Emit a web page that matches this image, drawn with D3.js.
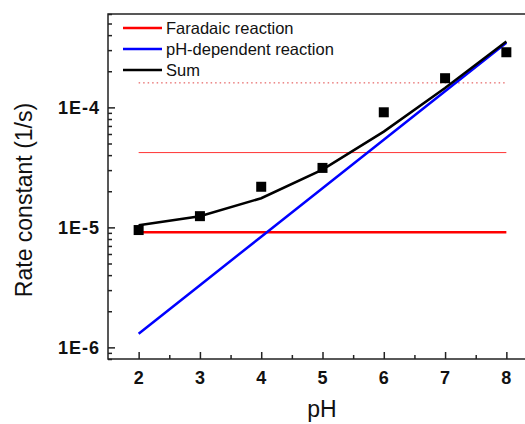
<!DOCTYPE html>
<html>
<head>
<meta charset="utf-8">
<script src="https://cdn.jsdelivr.net/npm/d3@7"></script>
<style>
  body { margin: 0; background: #fff; }
  svg { display: block; font-family: "Liberation Sans", Arial, sans-serif; }
</style>
</head>
<body>
<div id="chart"></div>
<script>
// data
var phValues = [2, 3, 4, 5, 6, 7, 8];
var measured = [9.5e-6, 1.24e-5, 2.18e-5, 3.13e-5, 9.1e-5, 1.75e-4, 2.88e-4];
var faradaic = [9.1e-6, 9.1e-6, 9.1e-6, 9.1e-6, 9.1e-6, 9.1e-6, 9.1e-6];
var phDependent = [1.30e-6, 3.30e-6, 8.36e-6, 2.12e-5, 5.37e-5, 1.36e-4, 3.45e-4];
var sumValues = [1.04e-5, 1.24e-5, 1.75e-5, 3.03e-5, 6.28e-5, 1.45e-4, 3.54e-4];
var thinLevel = [4.2e-5, 4.2e-5];
var dottedLevel = [1.6e-4, 1.6e-4];
var levelPh = [2, 8];

var xMajor = [2, 3, 4, 5, 6, 7, 8];
var xMinor = [2.5, 3.5, 4.5, 5.5, 6.5, 7.5, 8.5];
var yMajor = [1e-6, 1e-5, 1e-4];
var yMinor = [8e-7, 9e-7, 2e-6, 3e-6, 4e-6, 5e-6, 6e-6, 7e-6, 8e-6, 9e-6,
              2e-5, 3e-5, 4e-5, 5e-5, 6e-5, 7e-5, 8e-5, 9e-5,
              2e-4, 3e-4, 4e-4, 5e-4, 6e-4];
var legendNames = ["Faradaic reaction", "pH-dependent reaction", "Sum"];
var legendColors = ["#ff0000", "#0000ff", "#000000"];

var svgWidth = 525, svgHeight = 424;
var plot = { left: 108, right: 537, top: 14, bottom: 359 };

var svg = d3.select("#chart").append("svg")
    .attr("width", svgWidth)
    .attr("height", svgHeight);

var xScale = d3.scaleLinear().domain([1.5, 8.5]).range([plot.left, plot.right]);
var yScale = d3.scaleLog().domain([8e-7, 6e-4]).range([plot.bottom, plot.top]);

// frame
svg.append("rect")
    .attr("x", plot.left).attr("y", plot.top)
    .attr("width", plot.right - plot.left).attr("height", plot.bottom - plot.top)
    .attr("fill", "none").attr("stroke", "#222").attr("stroke-width", 1.5);

// y axis, ticks pointing inward
var yMinorAxis = d3.axisLeft(yScale).tickValues(yMinor).tickSize(-4).tickFormat("");
var yMajorAxis = d3.axisLeft(yScale).tickValues(yMajor).tickSize(-7).tickPadding(8)
    .tickFormat(d => "1E" + Math.round(Math.log10(d)));

svg.append("g").attr("transform", `translate(${plot.left},0)`).call(yMinorAxis)
    .call(g => g.select(".domain").remove());
var yg = svg.append("g").attr("transform", `translate(${plot.left},0)`).call(yMajorAxis);
yg.select(".domain").remove();

var xMinorAxis = d3.axisBottom(xScale).tickValues(xMinor).tickSize(-4).tickFormat("");
var xMajorAxis = d3.axisBottom(xScale).tickValues(xMajor).tickSize(-7).tickPadding(12)
    .tickFormat(d3.format("d"));

svg.append("g").attr("transform", `translate(0,${plot.bottom})`).call(xMinorAxis)
    .call(g => g.select(".domain").remove());
var xg = svg.append("g").attr("transform", `translate(0,${plot.bottom})`).call(xMajorAxis);
xg.select(".domain").remove();

svg.selectAll(".tick line").attr("stroke", "#222").attr("stroke-width", 1.5);
svg.selectAll(".tick text")
    .attr("fill", "#111")
    .style("font-size", "18px")
    .style("font-weight", "bold")
    .style("letter-spacing", "1px");

// axis titles
svg.append("text")
    .attr("x", 322).attr("y", 417)
    .attr("text-anchor", "middle")
    .style("font-size", "23px")
    .attr("fill", "#111")
    .text("pH");

svg.append("text")
    .attr("transform", "translate(32,200) rotate(-90)")
    .attr("text-anchor", "middle")
    .style("font-size", "23px")
    .attr("fill", "#111")
    .text("Rate constant (1/s)");

var line = d3.line()
    .x((d, i) => xScale(phValues[i]))
    .y(d => yScale(d));

var levelLine = d3.line()
    .x((d, i) => xScale(levelPh[i]))
    .y(d => yScale(d));

// reference levels
svg.append("path").attr("d", levelLine(thinLevel))
    .attr("fill", "none").attr("stroke", "#ff3333").attr("stroke-width", 1);
svg.append("path").attr("d", levelLine(dottedLevel))
    .attr("fill", "none").attr("stroke", "#e04040").attr("stroke-width", 1)
    .attr("stroke-dasharray", "1.5,3");

// model curves
svg.append("path").attr("d", line(faradaic))
    .attr("fill", "none").attr("stroke", "#ff0000").attr("stroke-width", 2.5);
svg.append("path").attr("d", line(phDependent))
    .attr("fill", "none").attr("stroke", "#0000ff").attr("stroke-width", 2.5);
svg.append("path").attr("d", line(sumValues))
    .attr("fill", "none").attr("stroke", "#000").attr("stroke-width", 2.5);

// measured points
var sq = 10;
svg.selectAll("rect.pt")
    .data(measured)
    .enter()
    .append("rect")
    .attr("class", "pt")
    .attr("x", (d, i) => xScale(phValues[i]) - sq / 2)
    .attr("y", d => yScale(d) - sq / 2)
    .attr("width", sq).attr("height", sq)
    .attr("fill", "#000");

// legend
var legend = svg.append("g").attr("transform", "translate(123,28)");
legendNames.forEach(function(name, i) {
    var row = legend.append("g").attr("transform", `translate(0,${i * 21})`);
    row.append("line")
        .attr("x1", 0).attr("x2", 39).attr("y1", 0).attr("y2", 0)
        .attr("stroke", legendColors[i]).attr("stroke-width", 2.5);
    row.append("text")
        .attr("x", 43).attr("y", 6)
        .style("font-size", "16.5px")
        .attr("fill", "#111")
        .text(name);
});
</script>
</body>
</html>
